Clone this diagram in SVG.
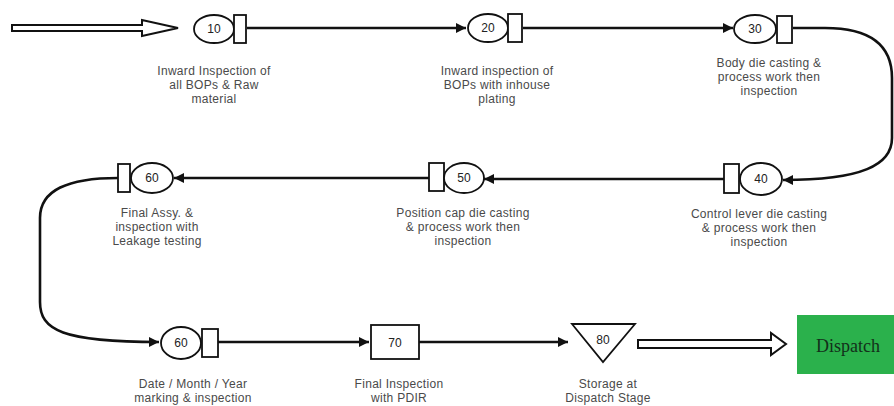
<svg xmlns="http://www.w3.org/2000/svg" width="894" height="406" viewBox="0 0 894 406">
<style>
.bg{fill:#ffffff}
.op{fill:#fff;stroke:#111;stroke-width:1.8}
.num{font-family:"Liberation Sans",Arial,sans-serif;font-size:12px;fill:#222;text-anchor:middle}
.lbl{font-family:"Liberation Sans",Arial,sans-serif;font-size:12px;letter-spacing:0.3px;fill:#4a4a4a;text-anchor:middle}
.ln{fill:none;stroke:#111;stroke-width:2.6}
.hollow{fill:#fff;stroke:#111;stroke-width:2}
</style>
<defs>
<marker id="ah" viewBox="0 0 10 10" refX="10" refY="5" markerWidth="4" markerHeight="4" orient="auto" markerUnits="strokeWidth">
<path d="M0,0 L10,5 L0,10 Z" fill="#111"/>
</marker>
</defs>
<rect class="bg" x="0" y="0" width="894" height="406"/>
<g id="connectors">
<path class="hollow" d="M12,25 L142,25 L142,20 L178,28 L142,36 L142,31 L12,31 Z"/>
<path class="ln" d="M247,28 L466,28" marker-end="url(#ah)"/>
<path class="ln" d="M523,28 L733,28" marker-end="url(#ah)"/>
<path class="ln" d="M793,28 L825,28 C870,28 892,45 892,78 L892,138 C892,165 862,180 783,180" marker-end="url(#ah)"/>
<path class="ln" d="M724,179 L484,179" marker-end="url(#ah)"/>
<path class="ln" d="M429,178 L174,178" marker-end="url(#ah)"/>
<path class="ln" d="M118,178 C68,178 40,190 40,218 L40,302 C40,330 62,342 159,342" marker-end="url(#ah)"/>
<path class="ln" d="M218,342 L369,342" marker-end="url(#ah)"/>
<path class="ln" d="M419,342 L568,342" marker-end="url(#ah)"/>
<path class="hollow" d="M638,340 L771,340 L771,333 L786,344 L771,355 L771,348 L638,348 Z"/>
</g>
<g id="n10">
<ellipse class="op" cx="214" cy="29" rx="20" ry="14"/>
<rect class="op" x="234" y="15" width="12" height="28"/>
<text class="num" x="214" y="33">10</text>
<text class="lbl" x="214" y="75">Inward Inspection of</text>
<text class="lbl" x="214" y="89">all BOPs &amp; Raw</text>
<text class="lbl" x="214" y="103">material</text>
</g>
<g id="n20">
<ellipse class="op" cx="488" cy="28" rx="20" ry="14"/>
<rect class="op" x="508" y="14" width="14" height="28"/>
<text class="num" x="488" y="32">20</text>
<text class="lbl" x="497" y="75">Inward inspection of</text>
<text class="lbl" x="497" y="89">BOPs with inhouse</text>
<text class="lbl" x="497" y="103">plating</text>
</g>
<g id="n30">
<ellipse class="op" cx="755" cy="29" rx="21" ry="14"/>
<rect class="op" x="777" y="16" width="15" height="27"/>
<text class="num" x="755" y="33">30</text>
<text class="lbl" x="769" y="67">Body die casting &amp;</text>
<text class="lbl" x="769" y="81">process work then</text>
<text class="lbl" x="769" y="95">inspection</text>
</g>
<g id="n40">
<rect class="op" x="724" y="164" width="15" height="29"/>
<ellipse class="op" cx="761" cy="179" rx="21" ry="16"/>
<text class="num" x="761" y="183">40</text>
<text class="lbl" x="759" y="218">Control lever die casting</text>
<text class="lbl" x="759" y="232">&amp; process work then</text>
<text class="lbl" x="759" y="246">inspection</text>
</g>
<g id="n50">
<rect class="op" x="429" y="163" width="15" height="28"/>
<ellipse class="op" cx="464" cy="178" rx="20" ry="15"/>
<text class="num" x="464" y="182">50</text>
<text class="lbl" x="463" y="217">Position cap die casting</text>
<text class="lbl" x="463" y="231">&amp; process work then</text>
<text class="lbl" x="463" y="245">inspection</text>
</g>
<g id="n60a">
<rect class="op" x="118" y="164" width="12" height="28"/>
<ellipse class="op" cx="152" cy="178" rx="21" ry="15"/>
<text class="num" x="152" y="182">60</text>
<text class="lbl" x="157" y="217">Final Assy. &amp;</text>
<text class="lbl" x="157" y="231">inspection with</text>
<text class="lbl" x="157" y="245">Leakage testing</text>
</g>
<g id="n60b">
<ellipse class="op" cx="181" cy="343" rx="20" ry="16"/>
<rect class="op" x="202" y="329" width="16" height="28"/>
<text class="num" x="181" y="347">60</text>
<text class="lbl" x="193" y="388">Date / Month / Year</text>
<text class="lbl" x="193" y="402">marking &amp; inspection</text>
</g>
<g id="n70">
<rect class="op" x="371" y="325" width="48" height="34"/>
<text class="num" x="395" y="347">70</text>
<text class="lbl" x="399" y="388">Final Inspection</text>
<text class="lbl" x="399" y="402">with PDIR</text>
</g>
<g id="n80">
<path class="op" d="M572,324 L635,324 L603,362 Z"/>
<text class="num" x="603" y="344">80</text>
<text class="lbl" x="608" y="388">Storage at</text>
<text class="lbl" x="608" y="402">Dispatch Stage</text>
</g>
<g id="dispatch">
<rect x="797" y="315" width="97" height="59" fill="#2bb14c"/>
<text x="848" y="352" font-family="'Liberation Serif','Times New Roman',serif" font-size="18" fill="#13301a" text-anchor="middle">Dispatch</text>
</g>
</svg>
